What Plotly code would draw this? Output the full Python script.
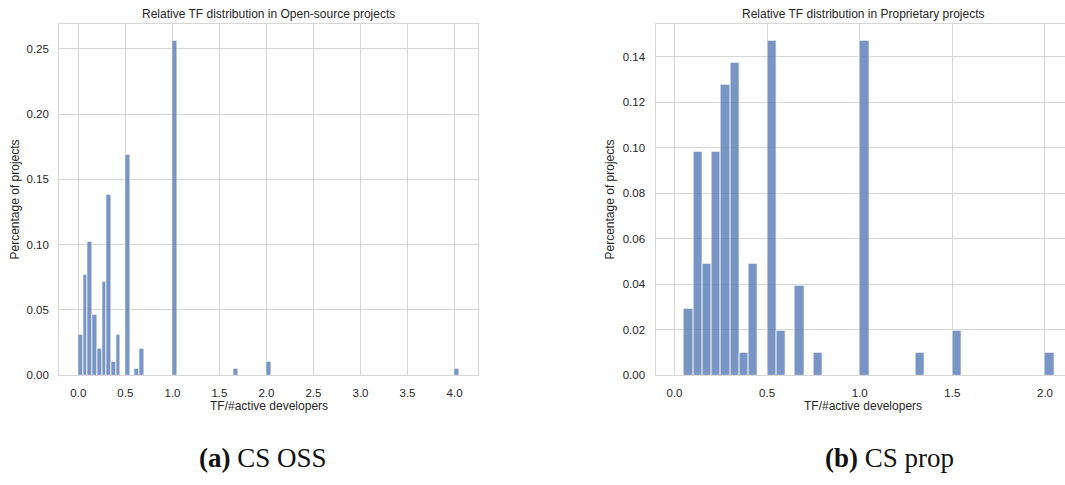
import plotly.graph_objects as go

# Histogram bins (left edges, width 0.05) and share of projects per bin
BIN_WIDTH = 0.05

oss_bins = [0.00, 0.05, 0.10, 0.15, 0.20, 0.25, 0.30, 0.35, 0.40, 0.50,
            0.60, 0.65, 1.00, 1.65, 2.00, 4.00]
oss_share = [0.0308, 0.0769, 0.1026, 0.0462, 0.0205, 0.0718, 0.1385, 0.0103,
             0.0308, 0.1692, 0.0051, 0.0205, 0.2564, 0.0051, 0.0103, 0.0051]

prop_bins = [0.05, 0.10, 0.15, 0.20, 0.25, 0.30, 0.35, 0.40, 0.50, 0.55,
             0.65, 0.75, 1.00, 1.30, 1.50, 2.00]
prop_share = [0.0294, 0.0980, 0.0490, 0.0980, 0.1275, 0.1373, 0.0098, 0.0490,
              0.1471, 0.0196, 0.0392, 0.0098, 0.1471, 0.0098, 0.0196, 0.0098]

oss_xticks = [0.0, 0.5, 1.0, 1.5, 2.0, 2.5, 3.0, 3.5, 4.0]
oss_yticks = [0.00, 0.05, 0.10, 0.15, 0.20, 0.25]
prop_xticks = [0.0, 0.5, 1.0, 1.5, 2.0]
prop_yticks = [0.00, 0.02, 0.04, 0.06, 0.08, 0.10, 0.12, 0.14]

titles = ["Relative TF distribution in Open-source projects",
          "Relative TF distribution in Proprietary projects"]
x_title = "TF/#active developers"
y_title = "Percentage of projects"
captions = ["<b>(a)</b> CS OSS", "<b>(b)</b> CS prop"]

W, H = 1065, 485
BAR_FILL = "rgba(76,114,176,0.75)"
GRID = "#d6d6d6"
TEXT = "#262626"
SANS = "Liberation Sans, Arial, sans-serif"


def px_x(v):
    return v / W


def px_y(v):
    return 1 - v / H


fig = go.Figure()

fig.add_trace(go.Bar(x=oss_bins, y=oss_share, width=BIN_WIDTH, offset=0,
                     marker=dict(color=BAR_FILL, line=dict(color="white", width=0.75)),
                     xaxis="x", yaxis="y", showlegend=False))
fig.add_trace(go.Bar(x=prop_bins, y=prop_share, width=BIN_WIDTH, offset=0,
                     marker=dict(color=BAR_FILL, line=dict(color="white", width=0.75)),
                     xaxis="x2", yaxis="y2", showlegend=False))

plot_top, plot_bottom = 24, 380
left_dom = [px_x(59.3), px_x(478.3)]
right_dom = [px_x(655.5), 1.0]
y_dom = [px_y(plot_bottom), px_y(plot_top)]

axis_common = dict(showgrid=True, gridcolor=GRID, gridwidth=1, zeroline=False,
                   showline=True, linecolor=GRID, linewidth=1.25,
                   ticks="outside", tickcolor="rgba(0,0,0,0)",
                   tickfont=dict(family=SANS, size=11.5, color=TEXT))

fig.update_layout(
    width=W, height=H,
    margin=dict(l=0, r=0, t=0, b=0),
    paper_bgcolor="white", plot_bgcolor="white",
    bargap=0,
    xaxis=dict(domain=left_dom, range=[-0.2025, 4.2525], tickvals=oss_xticks,
               tickformat=".1f", mirror=True, ticklen=7, anchor="y", **axis_common),
    yaxis=dict(domain=y_dom, range=[0, 0.2692], tickvals=oss_yticks,
               tickformat=".2f", mirror=True, ticklen=7, anchor="x", **axis_common),
    xaxis2=dict(domain=right_dom, range=[-0.1025, 2.108], tickvals=prop_xticks,
                tickformat=".1f", mirror=True, ticklen=7, anchor="y2", **axis_common),
    yaxis2=dict(domain=y_dom, range=[0, 0.1544], tickvals=prop_yticks,
                tickformat=".2f", mirror=False, ticklen=7, anchor="x2", **axis_common),
)

annotations = []
# panel titles
for cx, t in [(268.8, titles[0]), (863, titles[1])]:
    annotations.append(dict(text=t, x=px_x(cx), y=px_y(14), xref="paper", yref="paper",
                            xanchor="center", yanchor="middle", showarrow=False,
                            font=dict(family=SANS, size=12, color=TEXT)))
# x-axis titles
for cx in [268.8, 863]:
    annotations.append(dict(text=x_title, x=px_x(cx), y=px_y(411), xref="paper", yref="paper",
                            xanchor="center", yanchor="middle", showarrow=False,
                            font=dict(family=SANS, size=12, color=TEXT)))
# y-axis titles
for cx in [15, 610]:
    annotations.append(dict(text=y_title, x=px_x(cx), y=px_y(202), xref="paper", yref="paper",
                            xanchor="center", yanchor="middle", showarrow=False, textangle=-90,
                            font=dict(family=SANS, size=12, color=TEXT)))
# subfigure captions
for cx, c in [(262.5, captions[0]), (889, captions[1])]:
    annotations.append(dict(text=c, x=px_x(cx), y=px_y(464), xref="paper", yref="paper",
                            xanchor="center", yanchor="middle", showarrow=False,
                            font=dict(family="Liberation Serif, Times New Roman, serif",
                                      size=27, color="#111111")))
fig.update_layout(annotations=annotations)

fig.write_html("out.html")
